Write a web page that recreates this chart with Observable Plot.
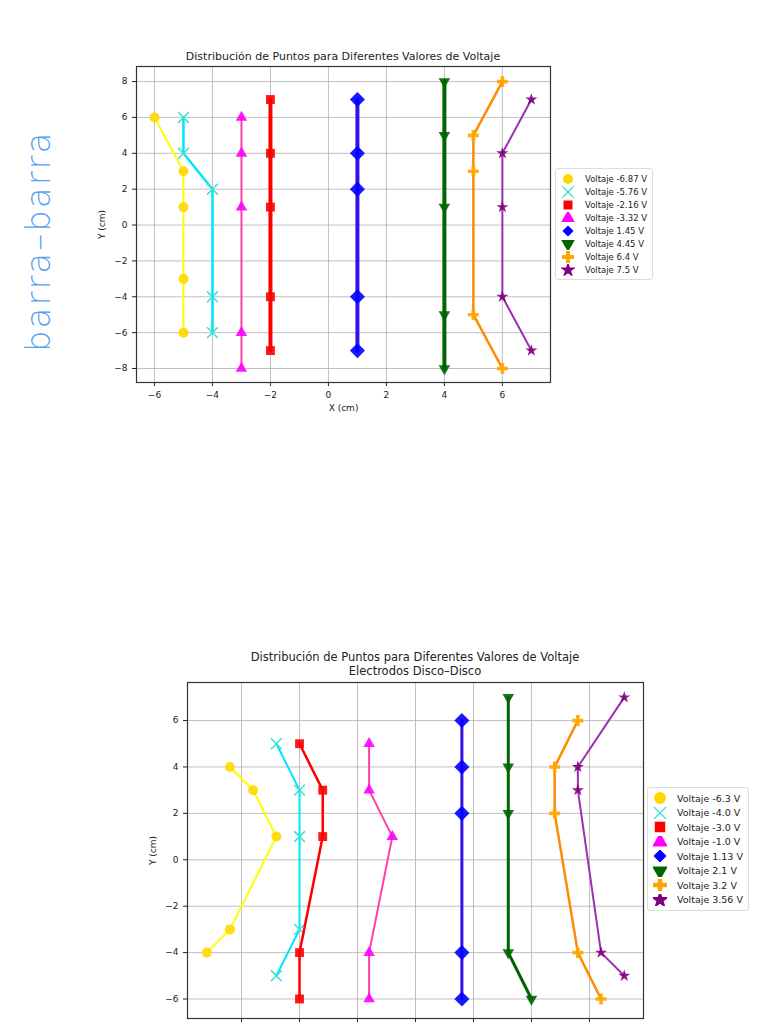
<!DOCTYPE html>
<html><head><meta charset="utf-8">
<script src="https://cdn.jsdelivr.net/npm/d3@7"></script>
<script src="https://cdn.jsdelivr.net/npm/@observablehq/plot@0.6"></script>
<style>
body{margin:0;width:768px;height:1024px;overflow:hidden;background:#fff;font-family:"DejaVu Sans",sans-serif;position:relative}
.abs{position:absolute}
.title{font-size:11px;color:#222;text-align:center;line-height:14px}
.legend{border:1px solid #ddd;border-radius:3px;background:#fff;padding:3px 5px;font-size:8.5px;color:#222}
.legend div{display:flex;align-items:center;height:13px}
.legend svg{margin-right:10px}
.hand{font-family:"DejaVu Sans",sans-serif;font-weight:200;font-size:34px;color:#5aa0f0;transform:rotate(-90deg);transform-origin:left top;letter-spacing:2px}
</style></head><body>
<div class="abs hand" style="left:18px;top:352px">barra–barra</div>
<div id="t1" class="abs title" style="left:136px;width:414px;top:50px">Distribución de Puntos para Diferentes Valores de Voltaje</div>
<div id="p1" class="abs" style="left:86px;top:44px"></div>
<div id="l1" class="abs legend" style="left:555px;top:168px"></div>
<div class="abs title" style="left:187px;width:456px;top:650px;font-size:11.5px">Distribución de Puntos para Diferentes Valores de Voltaje<br>Electrodos Disco–Disco</div>
<div id="p2" class="abs" style="left:137px;top:660px"></div>
<div id="l2" class="abs legend" style="left:647px;top:787px"></div>
<script>
// shared series styling (by series index)
const markerColors = ["#ffd700","#40e0d0","#ff0000","#ff00ff","#0000ff","#006400","#ffa500","#800080"];
const lineColors   = ["#ffff00","#00e5ff","#ff0000","#ff3fa8","#3311ee","#006400","#ff8c00","#9b30b0"];
const symbols      = ["circle","times","square","triangle","diamond2","triangle","cross","star"];
const rotations    = [0,0,0,0,0,180,0,0];
const radii        = {circle:5,times:5,square:5,triangle:4.3,diamond2:6.8,cross:4.6,star:3.8};

// chart 1
const top_labels = ["Voltaje -6.87 V","Voltaje -5.76 V","Voltaje -2.16 V","Voltaje -3.32 V","Voltaje 1.45 V","Voltaje 4.45 V","Voltaje 6.4 V","Voltaje 7.5 V"];
const top_x = [[-6,-5,-5,-5,-5],[-5,-5,-4,-4,-4],[-2,-2,-2,-2,-2],[-3,-3,-3,-3,-3],[1,1,1,1,1],[4,4,4,4,4],[6,5,5,5,6],[7,6,6,6,7]];
const top_y = [[6,3,1,-3,-6],[6,4,2,-4,-6],[7,4,1,-4,-7],[6,4,1,-6,-8],[7,4,2,-4,-7],[8,5,1,-5,-8],[8,5,3,-5,-8],[7,4,1,-4,-7]];
const top_lw = [2,2.5,4,2,4,4,2.5,2];
const top_xticks = [-6,-4,-2,0,2,4,6];
const top_yticks = [-8,-6,-4,-2,0,2,4,6,8];

// chart 2
const bot_labels = ["Voltaje -6.3 V","Voltaje -4.0 V","Voltaje -3.0 V","Voltaje -1.0 V","Voltaje 1.13 V","Voltaje 2.1 V","Voltaje 3.2 V","Voltaje 3.56 V"];
const bot_x = [[-8,-7,-6,-8,-9],[-6,-5,-5,-5,-6],[-5,-4,-4,-5,-5],[-2,-2,-1,-2,-2],[2,2,2,2,2],[4,4,4,4,5],[7,6,6,7,8],[9,7,7,8,9]];
const bot_y = [[4,3,1,-3,-4],[5,3,1,-3,-5],[5,3,1,-4,-6],[5,3,1,-4,-6],[6,4,2,-4,-6],[7,4,2,-4,-6],[6,4,2,-4,-6],[7,4,3,-4,-5]];
const bot_lw = [2,2,2.5,2,3,3,2.5,2];
const bot_xticks = [-7.5,-5,-2.5,0,2.5,5,7.5];
const bot_yticks = [-6,-4,-2,0,2,4,6];

function chart(X,Y,LW,xdom,ydom,xt,yt,w,h,mb,xlabel){
  const marks=[
    Plot.gridX(xt,{stroke:"#b0b0b0",strokeOpacity:0.8}),
    Plot.gridY(yt,{stroke:"#b0b0b0",strokeOpacity:0.8}),
    Plot.frame({stroke:"#333",strokeWidth:1.2})
  ];
  X.forEach((xs,i)=>{
    const d=xs.map((x,j)=>({x,y:Y[i][j]}));
    marks.push(Plot.line(d,{x:"x",y:"y",stroke:lineColors[i],strokeWidth:LW[i]}));
    const sym=symbols[i], stroked=sym==="times";
    marks.push(Plot.dot(d,{x:"x",y:"y",symbol:()=>sym,r:radii[sym],rotate:rotations[i],
      fill:stroked?"none":markerColors[i],stroke:stroked?markerColors[i]:"none",strokeWidth:stroked?1.5:0,fillOpacity:0.9}));
  });
  return Plot.plot({width:w,height:h,marginLeft:50,marginTop:22,marginRight:10,marginBottom:mb,
    style:{fontFamily:"DejaVu Sans",fontSize:"9px",color:"#222"},
    x:{domain:xdom,ticks:xt,tickFormat:d=>String(d).replace("-","−"),label:xlabel,labelAnchor:"center",labelArrow:"none",labelOffset:28,tickSize:4},
    y:{domain:ydom,ticks:yt,tickFormat:d=>String(d).replace("-","−"),label:"Y (cm)",labelAnchor:"center",labelArrow:"none",labelOffset:38,tickSize:4},
    marks});
}
document.getElementById("p1").append(chart(top_x,top_y,top_lw,[-6.62,7.66],[-8.78,8.84],top_xticks,top_yticks,474,368,30,"X (cm)"));
document.getElementById("p2").append(chart(bot_x,bot_y,bot_lw,[-9.83,9.83],[-6.84,7.64],bot_xticks,bot_yticks,516,388,30,null));

function legend(id,labels,size){
  const el=document.getElementById(id);
  labels.forEach((lab,i)=>{
    const row=document.createElement("div");
    const s=d3.create("svg").attr("width",14).attr("height",12);
    const types={circle:d3.symbolCircle,times:d3.symbolTimes,square:d3.symbolSquare,triangle:d3.symbolTriangle,diamond2:d3.symbolDiamond2,cross:d3.symbolCross,star:d3.symbolStar};
    const p=s.append("path").attr("d",d3.symbol(types[symbols[i]],size)()).attr("transform",`translate(7,6) rotate(${rotations[i]})`);
    if(symbols[i]==="times") p.attr("fill","none").attr("stroke",markerColors[i]).attr("stroke-width",1.3);
    else p.attr("fill",markerColors[i]);
    row.append(s.node());
    const t=document.createElement("span");t.textContent=lab;row.append(t);
    el.append(row);
  });
}
legend("l1",top_labels,80);
legend("l2",bot_labels,110);
document.getElementById("l2").style.fontSize="9.5px";
document.querySelectorAll("#l2 div").forEach(d=>d.style.height="14.5px");
</script>
</body></html>
